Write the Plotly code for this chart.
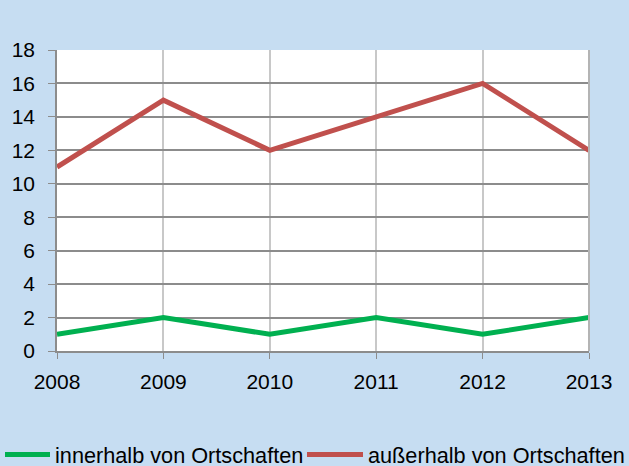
import plotly.graph_objects as go

years = [2008, 2009, 2010, 2011, 2012, 2013]
innerhalb = [1, 2, 1, 2, 1, 2]
ausserhalb = [11, 15, 12, 14, 16, 12]
y_ticks = [0, 2, 4, 6, 8, 10, 12, 14, 16, 18]

FONT = "Liberation Sans, Arial, sans-serif"
W, H = 629, 466

fig = go.Figure()
fig.add_trace(go.Scatter(x=years, y=innerhalb, mode="lines", name="innerhalb von Ortschaften",
                         line=dict(color="#00B050", width=5), legend="legend"))
fig.add_trace(go.Scatter(x=years, y=ausserhalb, mode="lines", name="außerhalb von Ortschaften",
                         line=dict(color="#C0504D", width=5), legend="legend2"))

leg_common = dict(orientation="h", xref="container", yref="container",
                  xanchor="left", yanchor="middle",
                  font=dict(family=FONT, size=21.7, color="#000000"),
                  bgcolor="rgba(0,0,0,0)", borderwidth=0)

fig.update_layout(
    width=W, height=H,
    margin=dict(l=57, r=40, t=50, b=115, autoexpand=False),
    paper_bgcolor="#C6DDF2",
    plot_bgcolor="#FFFFFF",
    font=dict(family=FONT, size=21, color="#000000"),
    showlegend=True,
    legend=dict(x=-10 / W, y=(H - 455) / H, itemwidth=45, **leg_common),
    legend2=dict(x=302 / W, y=(H - 455) / H, itemwidth=56, **leg_common),
    xaxis=dict(range=[2008, 2013], tickvals=years, ticktext=[str(y) for y in years],
               showgrid=True, gridcolor="#C8C8C8", gridwidth=1.5,
               showline=True, linecolor="#8C8C8C", linewidth=1.5,
               ticks="outside", ticklen=6, tickcolor="#8C8C8C",
               ticklabelstandoff=5,
               zeroline=False, fixedrange=True, automargin=False),
    yaxis=dict(range=[0, 18], tickvals=y_ticks,
               showgrid=True, gridcolor="#8C8C8C", gridwidth=1.5,
               showline=True, linecolor="#8C8C8C", linewidth=1.5,
               ticks="outside", ticklen=7, tickcolor="#8C8C8C",
               ticklabelstandoff=9,
               zeroline=False, fixedrange=True, automargin=False),
)
fig.add_shape(type="line", xref="paper", yref="paper", x0=1, x1=1, y0=0, y1=1,
              line=dict(color="#B4B4B4", width=2))

fig.write_html("out.html", config={"displayModeBar": False},
               post_script="document.body.style.margin='0';")
